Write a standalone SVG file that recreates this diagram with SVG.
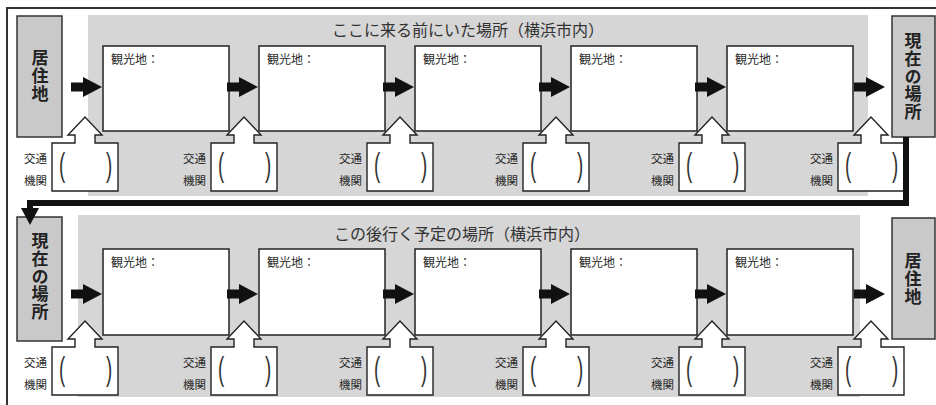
<svg xmlns="http://www.w3.org/2000/svg" xmlns:xlink="http://www.w3.org/1999/xlink" width="936" height="405" viewBox="0 0 936 405">
<style>
text{font-family:"Noto Sans CJK JP","Liberation Sans",sans-serif;fill:#2a2a2a}
.band{fill:#d6d6d6}
.end{fill:#c9c9c9;stroke:#333;stroke-width:1.5}
.endt{font-size:17px;font-weight:bold;fill:#222;writing-mode:vertical-rl;letter-spacing:0.8px}
.spot{fill:#fff;stroke:#222;stroke-width:1.5}
.spott{font-size:12px}
.title{font-size:16px;text-anchor:middle;fill:#333}
.call{fill:#fff;stroke:#222;stroke-width:1.4}
.lab{font-size:11.5px;text-anchor:end}
.br{font-family:"Liberation Sans",sans-serif;font-size:34px;fill:#333}
.arr{fill:#111}
.conn{fill:none;stroke:#111;stroke-width:6}
</style>
<defs>
<path id="ar" d="M0,-4.5 H12 V-10 L31,0 L12,10 V4.5 H0 Z"/>
<g id="co">
<path class="call" d="M-33,0 H-10 V-8 H-17 L0,-26 L17,-8 H10 V0 H33 V48 H-33 Z"/>
<text class="lab" x="-38" y="20">交通</text>
<text class="lab" x="-38" y="42">機関</text>
<text class="br" transform="translate(-26,33) scale(0.55,1)">(</text>
<text class="br" transform="translate(21,33) scale(0.55,1)">)</text>
</g>
</defs>
<rect x="7" y="8" width="940" height="410" fill="#fff" stroke="#333" stroke-width="2"/>
<g id="band-top">
<rect class="band" x="88" y="15" width="780" height="181"/>
<text class="title" x="468" y="36">ここに来る前にいた場所（横浜市内）</text>
</g>
<g id="band-bottom">
<rect class="band" x="78" y="215" width="782" height="182"/>
<text class="title" x="462" y="240">この後行く予定の場所（横浜市内）</text>
</g>
<g id="home-start">
<rect class="end" x="17" y="16" width="45" height="121"/>
<text class="endt" x="40" y="49">居住地</text>
</g>
<g id="current-top">
<rect class="end" x="892" y="16" width="43" height="121"/>
<text class="endt" x="913" y="32">現在の場所</text>
</g>
<g id="current-bottom">
<rect class="end" x="17" y="217" width="45" height="124"/>
<text class="endt" x="40" y="232">現在の場所</text>
</g>
<g id="home-end">
<rect class="end" x="892" y="218" width="43" height="121"/>
<text class="endt" x="913" y="252">居住地</text>
</g>
<g id="spot-t1"><rect class="spot" x="103" y="46" width="126" height="85"/><text class="spott" x="111" y="64">観光地：</text></g>
<g id="spot-t2"><rect class="spot" x="259" y="46" width="126" height="85"/><text class="spott" x="267" y="64">観光地：</text></g>
<g id="spot-t3"><rect class="spot" x="415" y="46" width="126" height="85"/><text class="spott" x="423" y="64">観光地：</text></g>
<g id="spot-t4"><rect class="spot" x="571" y="46" width="126" height="85"/><text class="spott" x="579" y="64">観光地：</text></g>
<g id="spot-t5"><rect class="spot" x="727" y="46" width="126" height="85"/><text class="spott" x="735" y="64">観光地：</text></g>
<g id="spot-b1"><rect class="spot" x="103" y="249" width="126" height="86"/><text class="spott" x="111" y="267">観光地：</text></g>
<g id="spot-b2"><rect class="spot" x="259" y="249" width="126" height="86"/><text class="spott" x="267" y="267">観光地：</text></g>
<g id="spot-b3"><rect class="spot" x="415" y="249" width="126" height="86"/><text class="spott" x="423" y="267">観光地：</text></g>
<g id="spot-b4"><rect class="spot" x="571" y="249" width="126" height="86"/><text class="spott" x="579" y="267">観光地：</text></g>
<g id="spot-b5"><rect class="spot" x="727" y="249" width="126" height="86"/><text class="spott" x="735" y="267">観光地：</text></g>
<g id="transport-t1"><use xlink:href="#co" transform="translate(85,143)"/></g>
<g id="transport-t2"><use xlink:href="#co" transform="translate(244,143)"/></g>
<g id="transport-t3"><use xlink:href="#co" transform="translate(400,143)"/></g>
<g id="transport-t4"><use xlink:href="#co" transform="translate(556,143)"/></g>
<g id="transport-t5"><use xlink:href="#co" transform="translate(712,143)"/></g>
<g id="transport-t6"><use xlink:href="#co" transform="translate(871,143)"/></g>
<g id="transport-b1"><use xlink:href="#co" transform="translate(85,347)"/></g>
<g id="transport-b2"><use xlink:href="#co" transform="translate(244,347)"/></g>
<g id="transport-b3"><use xlink:href="#co" transform="translate(400,347)"/></g>
<g id="transport-b4"><use xlink:href="#co" transform="translate(556,347)"/></g>
<g id="transport-b5"><use xlink:href="#co" transform="translate(712,347)"/></g>
<g id="transport-b6"><use xlink:href="#co" transform="translate(871,347)"/></g>
<g id="connectors">
<use class="arr" xlink:href="#ar" transform="translate(71,87)"/>
<use class="arr" xlink:href="#ar" transform="translate(227,87)"/>
<use class="arr" xlink:href="#ar" transform="translate(383,87)"/>
<use class="arr" xlink:href="#ar" transform="translate(539,87)"/>
<use class="arr" xlink:href="#ar" transform="translate(695,87)"/>
<use class="arr" xlink:href="#ar" transform="translate(854,87)"/>
<use class="arr" xlink:href="#ar" transform="translate(71,294)"/>
<use class="arr" xlink:href="#ar" transform="translate(227,294)"/>
<use class="arr" xlink:href="#ar" transform="translate(383,294)"/>
<use class="arr" xlink:href="#ar" transform="translate(539,294)"/>
<use class="arr" xlink:href="#ar" transform="translate(695,294)"/>
<use class="arr" xlink:href="#ar" transform="translate(854,294)"/>
<path class="conn" d="M906,137 V203 H30 V210"/>
<path class="arr" d="M21,208 H39 L30,225 Z"/>
</g>
</svg>
